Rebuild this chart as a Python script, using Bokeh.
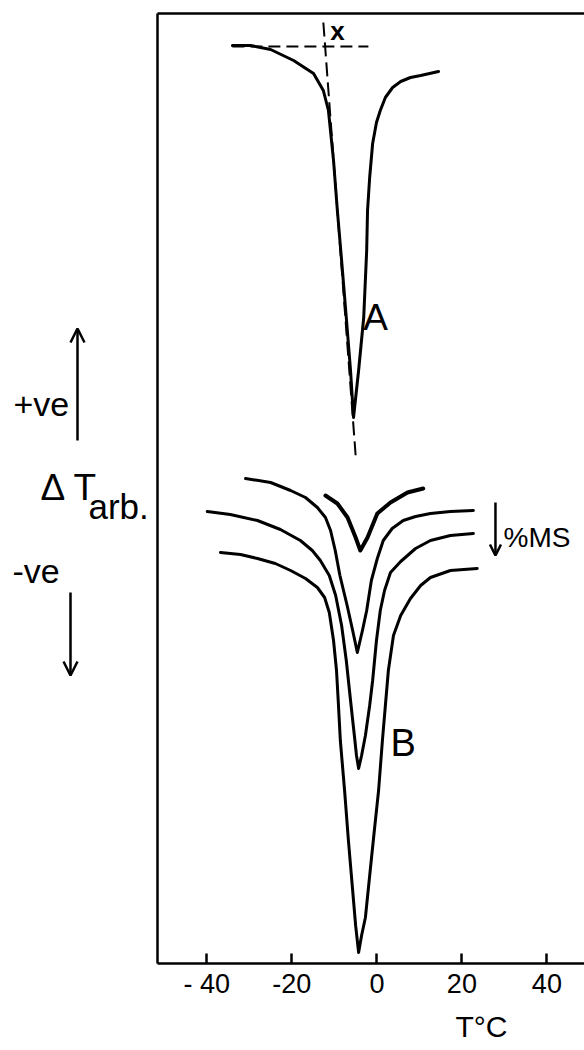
from bokeh.plotting import figure
from bokeh.models import Range1d, FixedTicker, LinearAxis, Label, Arrow, OpenHead, Title
from bokeh.layouts import row
from bokeh.embed import file_html
from bokeh.resources import INLINE

# ---------------- data (T in deg C, Delta T in arbitrary units) ----------------
A_T = [-34.0, -29.7, -25.0, -19.6, -14.9, -12.6, -11.4, -10.2, -9.3, -8.3, -7.2, -6.2, -5.5,
       -4.3, -3.1, -2.4, -2.2, -1.7, -1.0, -0.1, 0.8, 2.0, 3.7, 5.6, 7.9, 10.3, 14.5]
A_dT = [91.8, 91.8, 91.4, 90.3, 89.0, 87.3, 85.3, 80.3, 75.3, 70.3, 64.6, 59.3, 54.6,
        59.3, 64.6, 71.3, 75.3, 78.6, 82.0, 84.1, 85.3, 86.6, 87.6, 88.2, 88.6, 88.8, 89.2]

# construction lines on curve A (baseline and tangent)
base_T = [-34.0, -2.0]
base_dT = [91.7, 91.7]
tang_T = [-12.6, -5.0]
tang_dT = [94.1, 50.8]

# curves B, increasing %MS downwards
B1_T = [-12.1, -9.3, -6.9, -5.0, -3.9, -2.2, 0.1, 3.2, 7.2, 10.9]
B1_dT = [46.8, 46.0, 44.6, 42.6, 41.3, 42.6, 45.0, 46.1, 47.1, 47.5]

B2_T = [-30.9, -25.0, -20.3, -16.8, -14.0, -12.1, -10.9, -9.8, -8.7, -7.0, -5.7, -4.6,
        -3.4, -2.4, -1.3, 0.1, 1.5, 3.6, 6.2, 9.1, 12.6, 17.3, 22.7]
B2_dT = [48.5, 48.1, 47.3, 46.6, 45.6, 44.6, 43.3, 41.3, 38.8, 35.8, 33.3, 31.1,
         33.3, 35.3, 38.3, 40.5, 42.3, 43.5, 44.3, 44.7, 45.0, 45.2, 45.3]

B3_T = [-39.9, -34.5, -28.1, -22.7, -18.0, -15.2, -13.3, -11.2, -9.7, -8.3, -7.2, -6.2, -5.3, -4.8,
        -4.3, -3.6, -2.7, -1.7, -1.0, -0.1, 0.8, 1.8, 3.2, 5.6, 9.1, 12.6, 17.3, 22.7]
B3_dT = [45.2, 44.9, 44.3, 43.4, 42.3, 41.3, 40.3, 38.8, 36.8, 33.8, 30.3, 26.3, 22.8, 20.8,
         19.5, 20.8, 22.8, 25.8, 28.3, 32.3, 35.3, 37.3, 39.1, 40.2, 41.5, 42.3, 42.8, 43.0]

B4_T = [-36.8, -32.1, -28.1, -23.9, -20.3, -16.8, -14.0, -12.3, -11.2, -10.2, -9.5, -9.1, -8.6,
        -7.6, -6.7, -5.7, -5.0, -4.3, -3.6, -2.7, -1.5, -0.6, 0.4, 1.3, 2.0, 2.7, 3.9, 5.6,
        7.9, 10.3, 12.6, 17.3, 23.6]
B4_dT = [41.1, 40.9, 40.5, 40.0, 39.3, 38.5, 37.6, 36.6, 35.1, 32.3, 29.3, 26.3, 22.3,
         17.3, 12.3, 7.3, 3.8, 1.1, 2.8, 4.6, 9.6, 13.3, 17.3, 22.3, 25.8, 29.3, 32.8, 34.8,
         36.5, 37.8, 38.6, 39.3, 39.5]

x_ticks = [-40, -20, 0, 20, 40]
x_tick_labels = ["- 40", "-20", "0", "20", "40"]
x_title = "T°C"

FONT = "Liberation Sans"
INK = "black"

# ---------------- main plot ----------------
p = figure(width=436, height=1050,
           x_range=Range1d(-51.62, 48.85), y_range=Range1d(0, 95),
           output_backend="svg", toolbar_location=None,
           min_border_left=9, min_border_right=0, min_border_top=13, min_border_bottom=87)
p.grid.visible = False
p.outline_line_color = None
p.background_fill_color = "white"
p.border_fill_color = "white"

xa = p.xaxis[0]
xa.ticker = FixedTicker(ticks=x_ticks)
xa.major_label_overrides = dict(zip(x_ticks, x_tick_labels))
xa.major_tick_in = 10
xa.major_tick_out = 0
xa.minor_tick_in = 0
xa.minor_tick_out = 0
xa.axis_line_width = 2.5
xa.axis_line_color = INK
xa.major_tick_line_width = 2.5
xa.major_tick_line_color = INK
xa.major_label_text_font = FONT
xa.major_label_text_font_size = "27px"
xa.major_label_text_color = INK
xa.major_label_standoff = 5

ya = p.yaxis[0]
ya.ticker = FixedTicker(ticks=[])
ya.major_tick_in = 0
ya.major_tick_out = 0
ya.minor_tick_in = 0
ya.minor_tick_out = 0
ya.axis_line_width = 2.5
ya.axis_line_color = INK

top_axis = LinearAxis(ticker=FixedTicker(ticks=[]), major_tick_in=0, major_tick_out=0,
                      minor_tick_in=0, minor_tick_out=0,
                      axis_line_width=2.5, axis_line_color=INK)
p.add_layout(top_axis, "above")

# x quantity label, placed below the tick labels and shifted right like the original
p.add_layout(Title(text=x_title, align="left", offset=298, standoff=13,
                   text_font=FONT, text_font_size="30px", text_font_style="normal",
                   text_color=INK), "below")

# construction lines
p.line(base_T, base_dT, line_color=INK, line_width=2, line_dash="12 6")
p.line(tang_T, tang_dT, line_color=INK, line_width=2, line_dash="14 6")

# curves
p.line(A_T, A_dT, line_color=INK, line_width=3, line_join="round", line_cap="round")
p.line(B1_T, B1_dT, line_color=INK, line_width=4, line_join="round", line_cap="round")
p.line(B2_T, B2_dT, line_color=INK, line_width=3, line_join="round", line_cap="round")
p.line(B3_T, B3_dT, line_color=INK, line_width=3, line_join="round", line_cap="round")
p.line(B4_T, B4_dT, line_color=INK, line_width=3, line_join="round", line_cap="round")

p.add_layout(Label(x=-9.3, y=93.3, text="x", text_font=FONT, text_font_size="26px",
                   text_font_style="bold",
                   text_align="center", text_baseline="middle", text_color=INK))
p.add_layout(Label(x=-3.2, y=64.65, text="A", text_font=FONT, text_font_size="37px",
                   text_align="left", text_baseline="middle", text_color=INK))
p.add_layout(Label(x=3.2, y=22.05, text="B", text_font=FONT, text_font_size="38px",
                   text_align="left", text_baseline="middle", text_color=INK))
p.add_layout(Label(x=29.8, y=42.6, text="%MS", text_font=FONT, text_font_size="28px",
                   text_align="left", text_baseline="middle", text_color=INK))
p.add_layout(Arrow(x_start=27.9, y_start=46.1, x_end=27.9, y_end=40.8, line_width=2.5,
                   line_color=INK, end=OpenHead(size=11, line_width=2.5, line_color=INK)))

# ---------------- left annotation panel ----------------
# its frame is aligned with the main frame (page y 13..963), so the ranges
# below make one unit equal one page pixel
lf = figure(width=148, height=1050,
            x_range=Range1d(0, 148), y_range=Range1d(963, 13),
            output_backend="svg", toolbar_location=None,
            x_axis_location=None, y_axis_location=None,
            min_border=0, min_border_left=0, min_border_right=0,
            min_border_top=13, min_border_bottom=87)
lf.grid.visible = False
lf.outline_line_color = None
lf.background_fill_color = "white"
lf.border_fill_color = "white"

lf.add_layout(Arrow(x_start=77, y_start=440, x_end=77, y_end=328, line_width=2.5,
                    line_color=INK, end=OpenHead(size=14, line_width=2.5, line_color=INK)))
lf.add_layout(Arrow(x_start=70, y_start=592, x_end=70, y_end=675, line_width=2.5,
                    line_color=INK, end=OpenHead(size=14, line_width=2.5, line_color=INK)))
lf.add_layout(Label(x=13, y=403, text="+ve", text_font=FONT, text_font_size="34px",
                    text_align="left", text_baseline="middle", text_color=INK))
lf.add_layout(Label(x=40, y=487, text="Δ T", text_font=FONT, text_font_size="37px",
                    text_align="left", text_baseline="middle", text_color=INK))
lf.add_layout(Label(x=88, y=506, text="arb.", text_font=FONT, text_font_size="35px",
                    text_align="left", text_baseline="middle", text_color=INK))
lf.add_layout(Label(x=12, y=570, text="-ve", text_font=FONT, text_font_size="34px",
                    text_align="left", text_baseline="middle", text_color=INK))

layout = row(lf, p)
open("out.html", "w").write(file_html(layout, INLINE))
